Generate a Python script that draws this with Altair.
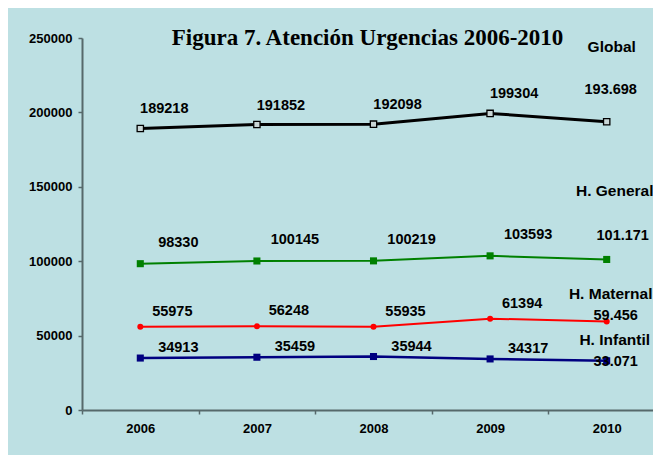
import altair as alt
import pandas as pd

# ---------------- data ----------------
years = ["2006", "2007", "2008", "2009", "2010"]
global_vals = [189218, 191852, 192098, 199304, 193698]
general_vals = [98330, 100145, 100219, 103593, 101171]
maternal_vals = [55975, 56248, 55935, 61394, 59456]
infantil_vals = [34913, 35459, 35944, 34317, 33071]
global_labels = ["189218", "191852", "192098", "199304", "193.698"]
general_labels = ["98330", "100145", "100219", "103593", "101.171"]
maternal_labels = ["55975", "56248", "55935", "61394", "59.456"]
infantil_labels = ["34913", "35459", "35944", "34317", "33.071"]
series_names = ["Global", "H. General", "H. Maternal", "H. Infantil"]
y_ticks = [0, 50000, 100000, 150000, 200000, 250000]
title_text = "Figura 7. Atención Urgencias  2006-2010"

# ---------------- styles ----------------
BG = "#bde0e3"
AXIS = "#56696b"
SANS = "Liberation Sans"
styles = [
    dict(color="black", shape="square", size=40, filled=False, fill="#c9d6d6", sw=3,
         ldx=24, ldy=-19, edx=4, edy=-32, ndx=5, ndy=-75),
    dict(color="#008000", shape="square", size=50, filled=True, fill="#008000", sw=2,
         ldx=38, ldy=-21, edx=16, edy=-23, ndx=8, ndy=-68),
    dict(color="#ff0000", shape="circle", size=36, filled=True, fill="#ff0000", sw=2,
         ldx=32, ldy=-15, edx=9, edy=-6, ndx=4, ndy=-28),
    dict(color="#000080", shape="square", size=50, filled=True, fill="#000080", sw=2.5,
         ldx=38, ldy=-10, edx=9, edy=1, ndx=8, ndy=-21),
]

all_vals = [global_vals, general_vals, maternal_vals, infantil_vals]
all_labels = [global_labels, general_labels, maternal_labels, infantil_labels]

x_enc = alt.X(
    "year:O",
    scale=alt.Scale(type="band", paddingInner=0, paddingOuter=0, domain=years,
                    range=[0, 583]),
    bandPosition=0.5,
    axis=alt.Axis(
        title=None, labelAngle=0, tickBand="extent", grid=False,
        domainColor=AXIS, domainWidth=2, tickColor=AXIS, tickWidth=1.5, tickSize=4,
        labelFont=SANS, labelFontSize=13, labelFontWeight="bold", labelColor="black",
        labelPadding=8,
    ),
)
y_enc = alt.Y(
    "value:Q",
    scale=alt.Scale(domain=[0, 250000], nice=False),
    axis=alt.Axis(
        title=None, values=y_ticks, format="d", grid=False,
        domainColor=AXIS, domainWidth=2, tickColor=AXIS, tickWidth=1.5, tickSize=4,
        labelFont=SANS, labelFontSize=13, labelFontWeight="bold", labelColor="black",
        labelPadding=6,
    ),
)

layers = []
for name, vals, labs, st in zip(series_names, all_vals, all_labels, styles):
    df = pd.DataFrame({"year": years, "value": vals, "label": labs, "series": name})
    base = alt.Chart(df).encode(x=x_enc, y=y_enc)
    line = base.mark_line(color=st["color"], strokeWidth=st["sw"])
    if st["filled"]:
        pts = base.mark_point(shape=st["shape"], size=st["size"], filled=True,
                              color=st["color"], opacity=1)
    else:
        pts = base.mark_point(shape=st["shape"], size=st["size"], filled=True,
                              fill=st["fill"], stroke=st["color"], strokeWidth=1.3,
                              opacity=1)
    txt_kw = dict(font=SANS, fontSize=14.5, fontWeight="bold", color="black",
                  align="center", baseline="middle")
    lab = base.mark_text(dx=st["ldx"], dy=st["ldy"], **txt_kw).encode(
        text="label:N"
    ).transform_filter(alt.datum.year != "2010")
    lab_end = base.mark_text(dx=st["edx"], dy=st["edy"], **txt_kw).encode(
        text="label:N"
    ).transform_filter(alt.datum.year == "2010")
    nm = base.mark_text(dx=st["ndx"], dy=st["ndy"], font=SANS, fontSize=15.5,
                        fontWeight="bold", color="black", align="center",
                        baseline="middle").encode(
        text="series:N"
    ).transform_filter(alt.datum.year == "2010")
    layers += [line, pts, lab, lab_end, nm]

chart = alt.layer(*layers).properties(
    width=571,
    height=372,
    autosize=alt.AutoSizeParams(type="none"),
    padding={"left": 74, "top": 30, "right": 0, "bottom": 45},
    background=BG,
    title=alt.Title(
        title_text, font="Liberation Serif", fontSize=23, fontWeight="bold",
        color="black", anchor="middle", baseline="alphabetic", offset=-36,
    ),
).configure_view(stroke=None)

chart.save("out.html", embed_options={"renderer": "svg", "actions": False})
